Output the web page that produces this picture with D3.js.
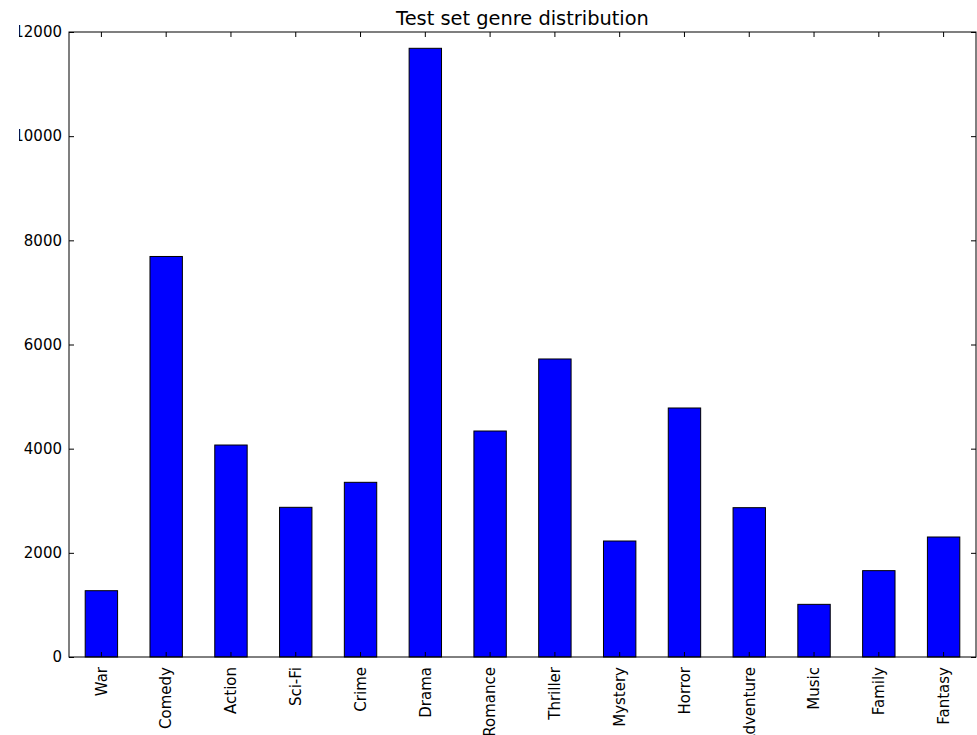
<!DOCTYPE html>
<html>
	<head>
		<meta charset="utf-8">
		<title>Test set genre distribution</title>
		<script src="https://d3js.org/d3.v7.min.js"></script>
		<style>
			body { margin: 0; background-color: white }
			svg { display: block; font-family: 'DejaVu Sans', sans-serif }
		</style>
	</head>
	<body>
		<div id='plot'></div>
		<script>
			var genres = ['War','Comedy','Action','Sci-Fi','Crime','Drama','Romance','Thriller','Mystery','Horror','Adventure','Music','Family','Fantasy']
			var counts = [1273, 7690, 4070, 2874, 3354, 11687, 4339, 5722, 2227, 4781, 2867, 1011, 1658, 2304]
			var yTicks = [0, 2000, 4000, 6000, 8000, 10000, 12000]

			var margin = {top:32, bottom:78, left:69, right:1}
			var width = 977 - margin.left - margin.right
			var height = 735 - margin.top - margin.bottom

			var root = d3.select('#plot').append('svg')
							.attr('width', 977)
							.attr('height', 735)

			var svg = root.append('g')
							.attr('transform','translate('+margin.left+','+margin.top+')')

			// left labels are cut in the original picture (clip in the group's own coordinates)
			svg.append('clipPath').attr('id','cut')
				.append('rect').attr('x',19-margin.left).attr('y',-margin.top).attr('width',977).attr('height',735)

		//SCALES
			var x = d3.scaleBand()
						.domain(genres)
						.range([0, width])
						.paddingInner(0.5)
						.paddingOuter(0.25)
			var y = d3.scaleLinear()
						.domain([0, 12000])
						.range([height, 0])

		//BARS
			svg.selectAll('.bar')
				.data(genres)
				.enter()
				.append('rect')
					.attr('class','bar')
					.attr('x', function(d){return x(d)})
					.attr('y', function(d,i){return y(counts[i])})
					.attr('width', x.bandwidth())
					.attr('height', function(d,i){return y(0)-y(counts[i])})
					.attr('fill','#0000ff')
					.attr('stroke','black')
					.attr('stroke-width',1)

		//AXES (ticks pointing inward, classic style)
			var yAxis = svg.append('g')
				.attr('clip-path','url(#cut)')
				.call(d3.axisLeft(y).tickValues(yTicks).tickSize(-5).tickPadding(7).tickFormat(d3.format('d')))
			var yAxisR = svg.append('g')
				.attr('transform','translate('+width+',0)')
				.call(d3.axisRight(y).tickValues(yTicks).tickSize(-5).tickFormat(''))
			var xAxis = svg.append('g')
				.attr('transform','translate(0,'+height+')')
				.call(d3.axisBottom(x).tickSize(-5).tickPadding(0))
			var xAxisT = svg.append('g')
				.call(d3.axisTop(x).tickSize(-5).tickFormat(''))

			svg.selectAll('.domain').remove()
			svg.selectAll('.tick line').attr('stroke','black')
			yAxis.selectAll('text').attr('font-size','15px').attr('font-family','DejaVu Sans').attr('fill','black')
			xAxis.selectAll('text')
				.attr('font-size','15px')
				.attr('font-family','DejaVu Sans')
				.attr('fill','black')
				.attr('text-anchor','end')
				.attr('dy','0.35em')
				.attr('transform','translate(0,10) rotate(-90)')
				.attr('x',0)
				.attr('y',0)

		//FRAME
			svg.append('rect')
				.attr('width', width)
				.attr('height', height)
				.attr('fill','none')
				.attr('stroke','black')
				.attr('stroke-width',1)

		//TITLE
			svg.append('text')
				.attr('x', width/2)
				.attr('y', -7)
				.attr('text-anchor','middle')
				.attr('font-size','19.4px')
				.attr('fill','black')
				.text('Test set genre distribution')
		</script>
	</body>
</html>
